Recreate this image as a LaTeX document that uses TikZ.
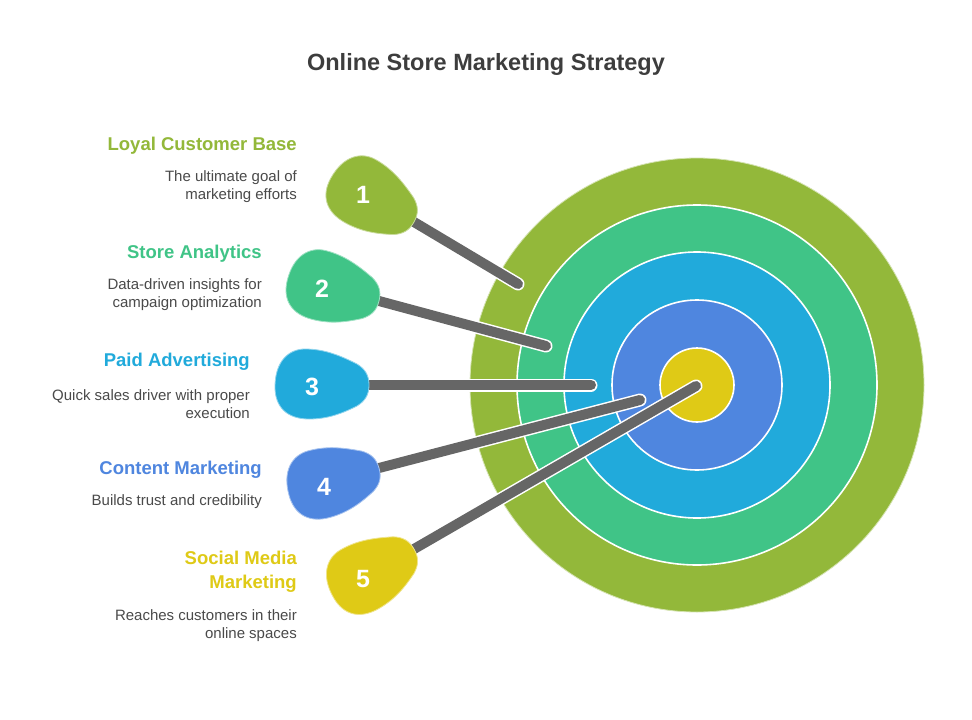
\documentclass[tikz,border=0pt]{standalone}
\usepackage{fontspec}
\setmainfont{Liberation Sans}
\definecolor{cA}{HTML}{93B83A}
\definecolor{cB}{HTML}{40C487}
\definecolor{cC}{HTML}{21AADB}
\definecolor{cD}{HTML}{4F86DF}
\definecolor{cE}{HTML}{DFCA16}
\definecolor{linegray}{HTML}{666666}
\definecolor{txtgray}{HTML}{4A4A4A}
\definecolor{titlegray}{HTML}{3D3D3D}
\tikzset{
  ring/.style={draw=white, line width=1.6pt},
  head/.style={font=\bfseries\fontsize{18.5}{24}\selectfont, anchor=east, inner sep=0pt, align=right},
  desc/.style={font=\fontsize{15}{18}\selectfont, text=txtgray, anchor=east, inner sep=0pt, align=right},
  num/.style={font=\bfseries\fontsize{25}{25}\selectfont, text=white, inner sep=0pt},
  halo/.style={draw=white, line width=13pt, line cap=round},
  dart/.style={draw=linegray, line width=10pt, line cap=round},
  pin/.pic={\path[pic actions] (0,0) .. controls (0,10) and (-4,16) .. (-12,21)
    .. controls (-28,29) and (-42,34) .. (-60,34)
    .. controls (-82,34) and (-94,22) .. (-94,2)
    .. controls (-94,-24) and (-80,-36) .. (-64,-36)
    .. controls (-44,-36) and (-28,-29) .. (-12,-21)
    .. controls (-4,-16) and (0,-10) .. (0,0) -- cycle;}
}
\begin{document}
\begin{tikzpicture}[x=1pt,y=-1pt]
\useasboundingbox[fill=white] (0,0) rectangle (972,720);
% target
\coordinate (ctr) at (697,385);
\fill[cA, ring, draw=cA!40!white, line width=0.8pt] (ctr) circle [radius=227pt];
\fill[cB, ring] (ctr) circle [radius=180pt];
\fill[cC, ring] (ctr) circle [radius=133pt];
\fill[cD, ring] (ctr) circle [radius=85pt];
\fill[cE, ring] (ctr) circle [radius=37pt];
% coordinates
\coordinate (t1) at (414,222); \coordinate (e1) at (518,284);
\coordinate (t2) at (379,301); \coordinate (e2) at (546,346);
\coordinate (t3) at (369,385); \coordinate (e3) at (591,385);
\coordinate (t4) at (379,468); \coordinate (e4) at (640,400);
\coordinate (t5) at (414,549); \coordinate (e5) at (696,386);
% darts
\foreach \i in {1,...,5}{
  \draw[halo] (t\i) -- (e\i);
  \draw[dart] (t\i) -- (e\i);
}
% pins
\pic[fill=cA, draw=cA!50!white, line width=0.8pt, rotate=-29] at (t1) {pin};
\pic[fill=cB, draw=cB!50!white, line width=0.8pt, rotate=-14] at (t2) {pin};
\pic[fill=cC, draw=cC!50!white, line width=0.8pt] at (t3) {pin};
\pic[fill=cD, draw=cD!50!white, line width=0.8pt, rotate=16] at (t4) {pin};
\pic[fill=cE, draw=cE!50!white, line width=0.8pt, rotate=30] at (t5) {pin};
\node[num] (n1) at (363,195) {1};
\node[num] (n2) at (322,289) {2};
\node[num] (n3) at (312,387) {3};
\node[num] (n4) at (324,487) {4};
\node[num] (n5) at (363,579) {5};
% title
\node[font=\bfseries\fontsize{23.5}{28}\selectfont, text=titlegray] (title) at (486,64) {Online Store Marketing Strategy};
% texts
\node[head, text=cA] (h1) at (297,146) {Loyal Customer Base};
\node[desc] (d1) at (297,187) {The ultimate goal of\\marketing efforts};
\node[head, text=cB] (h2) at (262,254) {Store Analytics};
\node[desc] (d2) at (262,295) {Data-driven insights for\\campaign optimization};
\node[head, text=cC] (h3) at (250,362) {Paid Advertising};
\node[desc] (d3) at (250,404) {Quick sales driver with proper\\execution};
\node[head, text=cD] (h4) at (262,470) {Content Marketing};
\node[desc] (d4) at (262,502) {Builds trust and credibility};
\node[head, text=cE] (h5) at (297,572) {Social Media\\Marketing};
\node[desc] (d5) at (297,626) {Reaches customers in their\\online spaces};
\end{tikzpicture}
\end{document}
